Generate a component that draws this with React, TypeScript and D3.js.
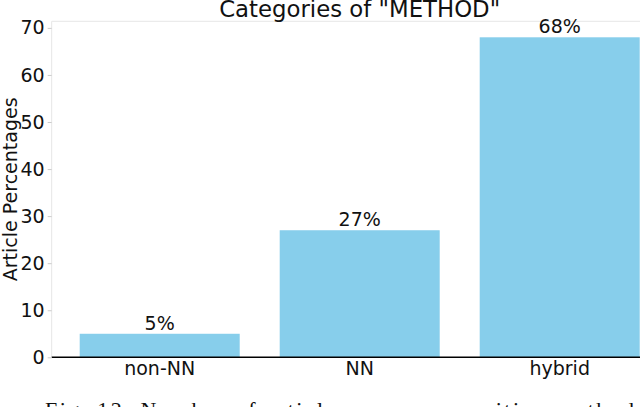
import { useEffect, useRef } from "react";
import * as d3 from "d3";

const CATEGORIES = ["non-NN", "NN", "hybrid"];
const PERCENTAGES = [5, 27, 68];
const Y_TICKS = [0, 10, 20, 30, 40, 50, 60, 70];

const TITLE = 'Categories of "METHOD"';
const Y_LABEL = "Article Percentages";
const CAPTION = "Fig. 12: Number of articles over composition methods";

export default function App() {
  const svgRef = useRef<SVGSVGElement | null>(null);

  useEffect(() => {
    if (!svgRef.current) return;
    const W = 640;
    const H = 407;
    const left = 51.7;
    const right = 667.7; // plot runs past the crop on the right
    const top = 21.3;
    const bottom = 357.3;
    const font = "DejaVu Sans, sans-serif";
    const fs = 19;

    const svg = d3.select(svgRef.current);
    svg.selectAll("*").remove();
    svg.attr("width", W).attr("height", H);

    const x = d3.scaleBand<string>()
      .domain(CATEGORIES)
      .range([left, right])
      .paddingInner(0.2)
      .paddingOuter(0.14);

    const y = d3.scaleLinear()
      .domain([0, d3.max(PERCENTAGES)! * 1.05])
      .range([bottom, top]);

    // Spines
    svg.append("line")
      .attr("x1", left).attr("x2", left).attr("y1", top).attr("y2", bottom)
      .attr("stroke", "#e6e6e6").attr("stroke-width", 1);
    svg.append("line")
      .attr("x1", left).attr("x2", W).attr("y1", top).attr("y2", top)
      .attr("stroke", "#e6e6e6").attr("stroke-width", 1);

    // Bars
    svg.append("g")
      .selectAll("rect")
      .data(PERCENTAGES)
      .join("rect")
      .attr("x", (_, i) => x(CATEGORIES[i])!)
      .attr("width", x.bandwidth())
      .attr("y", (d) => y(d))
      .attr("height", (d) => y(0) - y(d))
      .attr("fill", "#87ceeb");

    // Value labels
    svg.append("g")
      .selectAll("text")
      .data(PERCENTAGES)
      .join("text")
      .attr("x", (_, i) => x(CATEGORIES[i])! + x.bandwidth() / 2)
      .attr("y", (d) => y(d) - 4)
      .attr("text-anchor", "middle")
      .attr("font-family", font)
      .attr("font-size", fs)
      .attr("fill", "#111")
      .text((d) => `${d}%`);

    // Bottom spine
    svg.append("line")
      .attr("x1", left).attr("x2", W).attr("y1", bottom).attr("y2", bottom)
      .attr("stroke", "#000").attr("stroke-width", 1.6);

    // Y axis
    const yAxis = svg.append("g")
      .attr("transform", `translate(${left},0)`)
      .call(d3.axisLeft(y).tickValues(Y_TICKS).tickSize(4).tickPadding(3).tickFormat(d3.format("d")));
    yAxis.select(".domain").remove();
    yAxis.selectAll("line").attr("stroke", "#cccccc");
    yAxis.selectAll("text")
      .attr("font-family", font)
      .attr("font-size", fs)
      .attr("fill", "#111");

    // X axis labels
    const xAxis = svg.append("g")
      .attr("transform", `translate(0,${bottom})`)
      .call(d3.axisBottom(x).tickSize(0).tickPadding(4));
    xAxis.select(".domain").remove();
    xAxis.selectAll("text")
      .attr("font-family", font)
      .attr("font-size", fs)
      .attr("fill", "#111");

    // Y label
    svg.append("text")
      .attr("transform", `translate(17,${(top + bottom) / 2}) rotate(-90)`)
      .attr("text-anchor", "middle")
      .attr("font-family", font)
      .attr("font-size", fs)
      .attr("fill", "#111")
      .text(Y_LABEL);

    // Title
    svg.append("text")
      .attr("x", (left + right) / 2)
      .attr("y", 17)
      .attr("text-anchor", "middle")
      .attr("font-family", font)
      .attr("font-size", 22.8)
      .attr("fill", "#111")
      .text(TITLE);

    // Caption (cropped at the bottom)
    svg.append("text")
      .attr("x", 45)
      .attr("y", 417)
      .attr("font-family", "Liberation Serif, serif")
      .attr("font-size", 22)
      .attr("textLength", 600)
      .attr("lengthAdjust", "spacing")
      .attr("fill", "#111")
      .text(CAPTION);
  }, []);

  return (
    <svg
      ref={svgRef}
      style={{ position: "absolute", left: 0, top: 0, display: "block", background: "#fff" }}
    />
  );
}
